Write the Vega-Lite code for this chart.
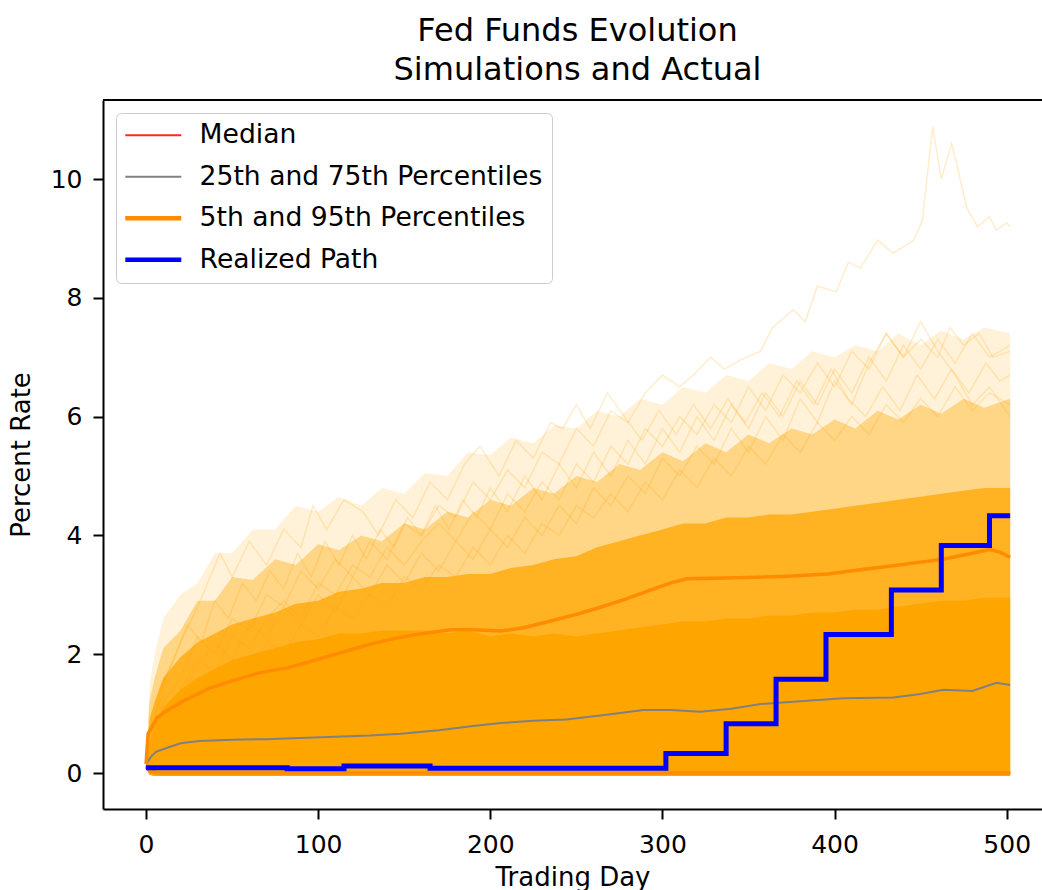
{
  "$schema": "https://vega.github.io/schema/vega-lite/v6.json",
  "width": 939,
  "height": 709,
  "autosize": {"type": "none"},
  "padding": {"left": 103, "top": 100, "right": 0, "bottom": 81},
  "background": "white",
  "title": {
    "text": ["Fed Funds Evolution", "Simulations and Actual"],
    "font": "DejaVu Sans",
    "fontSize": 32,
    "fontWeight": "normal",
    "color": "black",
    "anchor": "middle",
    "lineHeight": 39,
    "offset": 12,
    "dx": 5
  },
  "config": {
    "view": {"stroke": null},
    "font": "DejaVu Sans",
    "axis": {
      "labelFont": "DejaVu Sans",
      "titleFont": "DejaVu Sans",
      "labelColor": "black",
      "titleColor": "black",
      "domainColor": "black",
      "tickColor": "black",
      "domainWidth": 2,
      "tickWidth": 2,
      "tickSize": 10,
      "grid": false,
      "labelFontSize": 25,
      "titleFontSize": 26,
      "titleFontWeight": "normal"
    },
    "legend": {
      "labelFont": "DejaVu Sans",
      "labelFontSize": 26.6,
      "labelColor": "black",
      "labelLimit": 0,
      "symbolType": "M-1.3,0H4.3",
      "symbolSize": 400,
      "symbolStrokeWidth": 2,
      "rowPadding": 14.5,
      "labelOffset": 48,
      "padding": 9,
      "strokeColor": "#cccccc",
      "fillColor": "rgba(255,255,255,0.8)",
      "cornerRadius": 5,
      "orient": "top-left",
      "offset": 13
    }
  },
  "datasets": {
    "cloud": [
      {"day": 0, "lo": 0.08, "s1": 0.1, "s2": 0.1, "s3": 0.1, "s4": 0.1},
      {"day": 2, "lo": -0.03, "s1": 0.5, "s2": 0.9, "s3": 1.2, "s4": 1.5},
      {"day": 5, "lo": -0.05, "s1": 0.8, "s2": 1.2, "s3": 1.6, "s4": 2.0},
      {"day": 10, "lo": -0.05, "s1": 1.1, "s2": 1.6, "s3": 2.1, "s4": 2.6},
      {"day": 20, "lo": -0.05, "s1": 1.4, "s2": 1.95, "s3": 2.4, "s4": 3.0},
      {"day": 30, "lo": -0.05, "s1": 1.6, "s2": 2.2, "s3": 2.9, "s4": 3.2},
      {"day": 40, "lo": -0.05, "s1": 1.75, "s2": 2.35, "s3": 2.9, "s4": 3.7},
      {"day": 50, "lo": -0.05, "s1": 1.9, "s2": 2.5, "s3": 3.3, "s4": 3.7},
      {"day": 62, "lo": -0.05, "s1": 2.0, "s2": 2.6, "s3": 3.25, "s4": 4.1},
      {"day": 75, "lo": -0.05, "s1": 2.1, "s2": 2.7, "s3": 3.6, "s4": 4.1},
      {"day": 87, "lo": -0.05, "s1": 2.2, "s2": 2.85, "s3": 3.5, "s4": 4.5},
      {"day": 100, "lo": -0.05, "s1": 2.25, "s2": 2.9, "s3": 3.85, "s4": 4.4},
      {"day": 112, "lo": -0.05, "s1": 2.35, "s2": 3.05, "s3": 3.75, "s4": 4.65},
      {"day": 125, "lo": -0.05, "s1": 2.35, "s2": 3.1, "s3": 4.0, "s4": 4.5},
      {"day": 137, "lo": -0.05, "s1": 2.4, "s2": 3.2, "s3": 3.9, "s4": 4.8},
      {"day": 150, "lo": -0.05, "s1": 2.4, "s2": 3.2, "s3": 4.2, "s4": 4.7},
      {"day": 162, "lo": -0.05, "s1": 2.4, "s2": 3.3, "s3": 4.1, "s4": 5.05},
      {"day": 175, "lo": -0.05, "s1": 2.35, "s2": 3.3, "s3": 4.4, "s4": 5.0},
      {"day": 187, "lo": -0.05, "s1": 2.4, "s2": 3.35, "s3": 4.3, "s4": 5.4},
      {"day": 200, "lo": -0.05, "s1": 2.3, "s2": 3.35, "s3": 4.6, "s4": 5.35},
      {"day": 212, "lo": -0.05, "s1": 2.35, "s2": 3.45, "s3": 4.5, "s4": 5.65},
      {"day": 225, "lo": -0.05, "s1": 2.3, "s2": 3.5, "s3": 4.8, "s4": 5.55},
      {"day": 237, "lo": -0.05, "s1": 2.35, "s2": 3.6, "s3": 4.7, "s4": 5.85},
      {"day": 250, "lo": -0.05, "s1": 2.3, "s2": 3.65, "s3": 5.0, "s4": 5.8},
      {"day": 262, "lo": -0.05, "s1": 2.35, "s2": 3.8, "s3": 4.9, "s4": 6.1},
      {"day": 275, "lo": -0.05, "s1": 2.4, "s2": 3.9, "s3": 5.2, "s4": 6.0},
      {"day": 287, "lo": -0.05, "s1": 2.45, "s2": 4.0, "s3": 5.1, "s4": 6.3},
      {"day": 300, "lo": -0.05, "s1": 2.5, "s2": 4.1, "s3": 5.4, "s4": 6.2},
      {"day": 312, "lo": -0.05, "s1": 2.55, "s2": 4.2, "s3": 5.25, "s4": 6.5},
      {"day": 325, "lo": -0.05, "s1": 2.55, "s2": 4.2, "s3": 5.55, "s4": 6.4},
      {"day": 337, "lo": -0.05, "s1": 2.6, "s2": 4.3, "s3": 5.4, "s4": 6.7},
      {"day": 350, "lo": -0.05, "s1": 2.6, "s2": 4.3, "s3": 5.7, "s4": 6.6},
      {"day": 362, "lo": -0.05, "s1": 2.65, "s2": 4.35, "s3": 5.55, "s4": 6.9},
      {"day": 375, "lo": -0.05, "s1": 2.65, "s2": 4.35, "s3": 5.8, "s4": 6.8},
      {"day": 387, "lo": -0.05, "s1": 2.7, "s2": 4.4, "s3": 5.7, "s4": 7.1},
      {"day": 400, "lo": -0.05, "s1": 2.7, "s2": 4.45, "s3": 5.95, "s4": 7.0},
      {"day": 412, "lo": -0.05, "s1": 2.75, "s2": 4.5, "s3": 5.8, "s4": 7.2},
      {"day": 425, "lo": -0.05, "s1": 2.75, "s2": 4.55, "s3": 6.1, "s4": 7.1},
      {"day": 437, "lo": -0.05, "s1": 2.8, "s2": 4.6, "s3": 5.95, "s4": 7.4},
      {"day": 450, "lo": -0.05, "s1": 2.85, "s2": 4.65, "s3": 6.2, "s4": 7.2},
      {"day": 462, "lo": -0.05, "s1": 2.9, "s2": 4.7, "s3": 6.05, "s4": 7.45},
      {"day": 475, "lo": -0.05, "s1": 2.9, "s2": 4.75, "s3": 6.3, "s4": 7.3},
      {"day": 487, "lo": -0.05, "s1": 2.95, "s2": 4.8, "s3": 6.15, "s4": 7.5},
      {"day": 502, "lo": -0.05, "s1": 2.95, "s2": 4.8, "s3": 6.3, "s4": 7.4}
    ],
    "paths": [
      {"path": "a", "day": 0, "value": 0.1}, {"path": "a", "day": 10, "value": 1.2}, {"path": "a", "day": 20, "value": 1.6}, {"path": "a", "day": 30, "value": 2.3}, {"path": "a", "day": 40, "value": 2.0}, {"path": "a", "day": 50, "value": 2.6}, {"path": "a", "day": 60, "value": 2.4}, {"path": "a", "day": 70, "value": 3.0}, {"path": "a", "day": 80, "value": 2.8}, {"path": "a", "day": 90, "value": 3.4}, {"path": "a", "day": 100, "value": 3.1}, {"path": "a", "day": 110, "value": 3.6}, {"path": "a", "day": 120, "value": 3.3}, {"path": "a", "day": 130, "value": 3.9}, {"path": "a", "day": 140, "value": 3.6}, {"path": "a", "day": 150, "value": 4.2}, {"path": "a", "day": 160, "value": 4.0}, {"path": "a", "day": 170, "value": 4.5}, {"path": "a", "day": 180, "value": 4.3}, {"path": "a", "day": 190, "value": 4.9}, {"path": "a", "day": 200, "value": 4.6}, {"path": "a", "day": 210, "value": 5.1}, {"path": "a", "day": 220, "value": 4.8}, {"path": "a", "day": 230, "value": 5.4}, {"path": "a", "day": 240, "value": 5.2}, {"path": "a", "day": 250, "value": 5.8}, {"path": "a", "day": 260, "value": 5.5}, {"path": "a", "day": 270, "value": 6.1}, {"path": "a", "day": 280, "value": 5.9}, {"path": "a", "day": 290, "value": 6.4}, {"path": "a", "day": 300, "value": 6.7}, {"path": "a", "day": 310, "value": 6.5}, {"path": "a", "day": 318, "value": 6.7}, {"path": "a", "day": 328, "value": 7.0}, {"path": "a", "day": 336, "value": 6.8}, {"path": "a", "day": 345, "value": 6.95}, {"path": "a", "day": 357, "value": 7.1}, {"path": "a", "day": 364, "value": 7.5}, {"path": "a", "day": 376, "value": 7.8}, {"path": "a", "day": 383, "value": 7.6}, {"path": "a", "day": 390, "value": 8.2}, {"path": "a", "day": 401, "value": 8.1}, {"path": "a", "day": 408, "value": 8.6}, {"path": "a", "day": 415, "value": 8.5}, {"path": "a", "day": 425, "value": 8.97}, {"path": "a", "day": 434, "value": 8.75}, {"path": "a", "day": 446, "value": 8.97}, {"path": "a", "day": 451, "value": 9.3}, {"path": "a", "day": 457, "value": 10.88}, {"path": "a", "day": 462, "value": 10.0}, {"path": "a", "day": 468, "value": 10.6}, {"path": "a", "day": 477, "value": 9.5}, {"path": "a", "day": 483, "value": 9.2}, {"path": "a", "day": 490, "value": 9.36}, {"path": "a", "day": 494, "value": 9.14}, {"path": "a", "day": 500, "value": 9.26}, {"path": "a", "day": 502, "value": 9.2},
      {"path": "b", "day": 0, "value": 0.1}, {"path": "b", "day": 10, "value": 0.9}, {"path": "b", "day": 20, "value": 1.4}, {"path": "b", "day": 30, "value": 1.9}, {"path": "b", "day": 40, "value": 1.7}, {"path": "b", "day": 50, "value": 2.3}, {"path": "b", "day": 60, "value": 2.1}, {"path": "b", "day": 70, "value": 2.6}, {"path": "b", "day": 80, "value": 2.9}, {"path": "b", "day": 90, "value": 2.6}, {"path": "b", "day": 100, "value": 3.2}, {"path": "b", "day": 110, "value": 3.0}, {"path": "b", "day": 120, "value": 3.5}, {"path": "b", "day": 130, "value": 3.3}, {"path": "b", "day": 140, "value": 3.8}, {"path": "b", "day": 150, "value": 3.5}, {"path": "b", "day": 160, "value": 3.9}, {"path": "b", "day": 170, "value": 4.2}, {"path": "b", "day": 180, "value": 3.9}, {"path": "b", "day": 190, "value": 4.4}, {"path": "b", "day": 200, "value": 4.1}, {"path": "b", "day": 210, "value": 4.7}, {"path": "b", "day": 220, "value": 4.4}, {"path": "b", "day": 230, "value": 4.9}, {"path": "b", "day": 240, "value": 4.6}, {"path": "b", "day": 250, "value": 5.2}, {"path": "b", "day": 260, "value": 4.9}, {"path": "b", "day": 270, "value": 5.5}, {"path": "b", "day": 280, "value": 5.2}, {"path": "b", "day": 290, "value": 5.8}, {"path": "b", "day": 300, "value": 5.5}, {"path": "b", "day": 310, "value": 6.0}, {"path": "b", "day": 320, "value": 5.7}, {"path": "b", "day": 330, "value": 6.2}, {"path": "b", "day": 340, "value": 5.9}, {"path": "b", "day": 350, "value": 6.5}, {"path": "b", "day": 360, "value": 6.1}, {"path": "b", "day": 370, "value": 6.7}, {"path": "b", "day": 380, "value": 6.4}, {"path": "b", "day": 390, "value": 6.9}, {"path": "b", "day": 400, "value": 6.5}, {"path": "b", "day": 410, "value": 7.1}, {"path": "b", "day": 420, "value": 6.8}, {"path": "b", "day": 430, "value": 7.4}, {"path": "b", "day": 440, "value": 7.0}, {"path": "b", "day": 450, "value": 7.3}, {"path": "b", "day": 460, "value": 7.0}, {"path": "b", "day": 467, "value": 7.5}, {"path": "b", "day": 475, "value": 7.2}, {"path": "b", "day": 484, "value": 7.4}, {"path": "b", "day": 492, "value": 7.0}, {"path": "b", "day": 502, "value": 7.1},
      {"path": "c", "day": 0, "value": 0.1}, {"path": "c", "day": 10, "value": 1.5}, {"path": "c", "day": 20, "value": 2.2}, {"path": "c", "day": 30, "value": 2.8}, {"path": "c", "day": 43, "value": 3.7}, {"path": "c", "day": 50, "value": 3.3}, {"path": "c", "day": 60, "value": 3.9}, {"path": "c", "day": 70, "value": 3.5}, {"path": "c", "day": 80, "value": 4.1}, {"path": "c", "day": 90, "value": 3.8}, {"path": "c", "day": 97, "value": 4.5}, {"path": "c", "day": 105, "value": 4.1}, {"path": "c", "day": 115, "value": 4.6}, {"path": "c", "day": 126, "value": 4.4}, {"path": "c", "day": 135, "value": 4.0}, {"path": "c", "day": 145, "value": 4.6}, {"path": "c", "day": 155, "value": 4.3}, {"path": "c", "day": 165, "value": 4.9}, {"path": "c", "day": 175, "value": 4.6}, {"path": "c", "day": 185, "value": 5.2}, {"path": "c", "day": 194, "value": 5.5}, {"path": "c", "day": 205, "value": 5.0}, {"path": "c", "day": 215, "value": 5.6}, {"path": "c", "day": 225, "value": 5.3}, {"path": "c", "day": 235, "value": 5.9}, {"path": "c", "day": 242, "value": 5.8}, {"path": "c", "day": 250, "value": 6.2}, {"path": "c", "day": 258, "value": 5.8}, {"path": "c", "day": 268, "value": 6.4}, {"path": "c", "day": 278, "value": 6.0}, {"path": "c", "day": 288, "value": 5.6}, {"path": "c", "day": 298, "value": 6.1}, {"path": "c", "day": 308, "value": 5.7}, {"path": "c", "day": 318, "value": 6.2}, {"path": "c", "day": 328, "value": 5.8}, {"path": "c", "day": 338, "value": 6.3}, {"path": "c", "day": 348, "value": 5.9}, {"path": "c", "day": 358, "value": 6.4}, {"path": "c", "day": 368, "value": 6.0}, {"path": "c", "day": 378, "value": 6.6}, {"path": "c", "day": 388, "value": 6.2}, {"path": "c", "day": 398, "value": 6.8}, {"path": "c", "day": 408, "value": 6.3}, {"path": "c", "day": 418, "value": 6.0}, {"path": "c", "day": 428, "value": 6.5}, {"path": "c", "day": 438, "value": 6.1}, {"path": "c", "day": 448, "value": 6.7}, {"path": "c", "day": 458, "value": 6.3}, {"path": "c", "day": 468, "value": 6.8}, {"path": "c", "day": 478, "value": 6.4}, {"path": "c", "day": 488, "value": 6.9}, {"path": "c", "day": 496, "value": 6.6}, {"path": "c", "day": 502, "value": 6.7},
      {"path": "d", "day": 0, "value": 0.1}, {"path": "d", "day": 10, "value": 1.0}, {"path": "d", "day": 20, "value": 1.3}, {"path": "d", "day": 30, "value": 1.8}, {"path": "d", "day": 40, "value": 2.2}, {"path": "d", "day": 50, "value": 1.9}, {"path": "d", "day": 60, "value": 2.5}, {"path": "d", "day": 70, "value": 2.3}, {"path": "d", "day": 80, "value": 2.8}, {"path": "d", "day": 90, "value": 2.5}, {"path": "d", "day": 100, "value": 3.0}, {"path": "d", "day": 110, "value": 2.7}, {"path": "d", "day": 120, "value": 3.3}, {"path": "d", "day": 130, "value": 3.0}, {"path": "d", "day": 140, "value": 3.5}, {"path": "d", "day": 150, "value": 3.2}, {"path": "d", "day": 160, "value": 3.7}, {"path": "d", "day": 170, "value": 3.4}, {"path": "d", "day": 180, "value": 3.9}, {"path": "d", "day": 190, "value": 3.6}, {"path": "d", "day": 200, "value": 4.1}, {"path": "d", "day": 210, "value": 3.8}, {"path": "d", "day": 220, "value": 4.3}, {"path": "d", "day": 230, "value": 4.0}, {"path": "d", "day": 240, "value": 4.5}, {"path": "d", "day": 250, "value": 4.2}, {"path": "d", "day": 260, "value": 4.8}, {"path": "d", "day": 270, "value": 4.5}, {"path": "d", "day": 280, "value": 5.0}, {"path": "d", "day": 290, "value": 4.7}, {"path": "d", "day": 300, "value": 5.3}, {"path": "d", "day": 310, "value": 5.0}, {"path": "d", "day": 320, "value": 5.5}, {"path": "d", "day": 330, "value": 5.2}, {"path": "d", "day": 340, "value": 5.8}, {"path": "d", "day": 350, "value": 5.4}, {"path": "d", "day": 360, "value": 6.0}, {"path": "d", "day": 370, "value": 5.6}, {"path": "d", "day": 380, "value": 6.3}, {"path": "d", "day": 390, "value": 5.9}, {"path": "d", "day": 400, "value": 6.6}, {"path": "d", "day": 410, "value": 6.2}, {"path": "d", "day": 420, "value": 6.9}, {"path": "d", "day": 430, "value": 7.4}, {"path": "d", "day": 440, "value": 7.0}, {"path": "d", "day": 450, "value": 7.6}, {"path": "d", "day": 460, "value": 7.1}, {"path": "d", "day": 470, "value": 6.7}, {"path": "d", "day": 480, "value": 6.2}, {"path": "d", "day": 490, "value": 6.5}, {"path": "d", "day": 502, "value": 6.0},
      {"path": "e", "day": 0, "value": 0.1}, {"path": "e", "day": 10, "value": 0.8}, {"path": "e", "day": 20, "value": 1.2}, {"path": "e", "day": 30, "value": 1.6}, {"path": "e", "day": 40, "value": 1.4}, {"path": "e", "day": 50, "value": 1.9}, {"path": "e", "day": 60, "value": 1.7}, {"path": "e", "day": 70, "value": 2.2}, {"path": "e", "day": 80, "value": 2.0}, {"path": "e", "day": 90, "value": 2.5}, {"path": "e", "day": 100, "value": 2.3}, {"path": "e", "day": 110, "value": 2.8}, {"path": "e", "day": 120, "value": 2.6}, {"path": "e", "day": 130, "value": 3.0}, {"path": "e", "day": 140, "value": 2.8}, {"path": "e", "day": 150, "value": 3.3}, {"path": "e", "day": 160, "value": 3.1}, {"path": "e", "day": 170, "value": 3.5}, {"path": "e", "day": 180, "value": 3.3}, {"path": "e", "day": 190, "value": 3.8}, {"path": "e", "day": 200, "value": 3.5}, {"path": "e", "day": 210, "value": 4.0}, {"path": "e", "day": 220, "value": 3.7}, {"path": "e", "day": 230, "value": 4.2}, {"path": "e", "day": 240, "value": 4.0}, {"path": "e", "day": 250, "value": 4.5}, {"path": "e", "day": 260, "value": 4.3}, {"path": "e", "day": 270, "value": 4.7}, {"path": "e", "day": 280, "value": 4.4}, {"path": "e", "day": 290, "value": 4.9}, {"path": "e", "day": 300, "value": 4.6}, {"path": "e", "day": 310, "value": 5.1}, {"path": "e", "day": 320, "value": 4.8}, {"path": "e", "day": 330, "value": 5.3}, {"path": "e", "day": 340, "value": 5.0}, {"path": "e", "day": 350, "value": 5.5}, {"path": "e", "day": 360, "value": 5.2}, {"path": "e", "day": 370, "value": 5.7}, {"path": "e", "day": 380, "value": 5.4}, {"path": "e", "day": 390, "value": 5.9}, {"path": "e", "day": 400, "value": 5.6}, {"path": "e", "day": 410, "value": 6.0}, {"path": "e", "day": 420, "value": 5.7}, {"path": "e", "day": 430, "value": 6.2}, {"path": "e", "day": 440, "value": 5.9}, {"path": "e", "day": 450, "value": 6.3}, {"path": "e", "day": 460, "value": 6.0}, {"path": "e", "day": 470, "value": 6.5}, {"path": "e", "day": 480, "value": 6.1}, {"path": "e", "day": 490, "value": 6.4}, {"path": "e", "day": 502, "value": 6.2},
      {"path": "f", "day": 0, "value": 0.1}, {"path": "f", "day": 8, "value": 1.4}, {"path": "f", "day": 16, "value": 1.9}, {"path": "f", "day": 24, "value": 2.5}, {"path": "f", "day": 32, "value": 2.2}, {"path": "f", "day": 40, "value": 2.9}, {"path": "f", "day": 48, "value": 2.6}, {"path": "f", "day": 56, "value": 3.2}, {"path": "f", "day": 64, "value": 2.9}, {"path": "f", "day": 72, "value": 3.4}, {"path": "f", "day": 80, "value": 3.1}, {"path": "f", "day": 88, "value": 3.7}, {"path": "f", "day": 96, "value": 3.3}, {"path": "f", "day": 104, "value": 3.9}, {"path": "f", "day": 112, "value": 3.5}, {"path": "f", "day": 120, "value": 4.0}, {"path": "f", "day": 128, "value": 3.6}, {"path": "f", "day": 136, "value": 4.1}, {"path": "f", "day": 144, "value": 3.8}, {"path": "f", "day": 152, "value": 4.3}, {"path": "f", "day": 160, "value": 4.0}, {"path": "f", "day": 168, "value": 4.5}, {"path": "f", "day": 176, "value": 4.1}, {"path": "f", "day": 184, "value": 4.6}, {"path": "f", "day": 192, "value": 4.3}, {"path": "f", "day": 200, "value": 4.8}, {"path": "f", "day": 210, "value": 4.4}, {"path": "f", "day": 220, "value": 5.0}, {"path": "f", "day": 230, "value": 4.6}, {"path": "f", "day": 240, "value": 5.2}, {"path": "f", "day": 250, "value": 4.8}, {"path": "f", "day": 260, "value": 5.4}, {"path": "f", "day": 270, "value": 5.0}, {"path": "f", "day": 280, "value": 5.6}, {"path": "f", "day": 290, "value": 5.2}, {"path": "f", "day": 300, "value": 5.8}, {"path": "f", "day": 310, "value": 5.4}, {"path": "f", "day": 320, "value": 6.0}, {"path": "f", "day": 330, "value": 5.6}, {"path": "f", "day": 340, "value": 6.2}, {"path": "f", "day": 350, "value": 5.8}, {"path": "f", "day": 360, "value": 6.4}, {"path": "f", "day": 370, "value": 6.0}, {"path": "f", "day": 380, "value": 6.6}, {"path": "f", "day": 390, "value": 6.2}, {"path": "f", "day": 400, "value": 6.8}, {"path": "f", "day": 410, "value": 6.4}, {"path": "f", "day": 420, "value": 7.0}, {"path": "f", "day": 430, "value": 6.6}, {"path": "f", "day": 440, "value": 7.2}, {"path": "f", "day": 450, "value": 6.8}, {"path": "f", "day": 460, "value": 7.3}, {"path": "f", "day": 470, "value": 6.9}, {"path": "f", "day": 480, "value": 7.4}, {"path": "f", "day": 490, "value": 7.0}, {"path": "f", "day": 502, "value": 7.2}
    ],
    "pct": [
      {"series": "Median", "line": "med", "day": 0, "value": 0.1}, {"series": "Median", "line": "med", "day": 3, "value": 0.04}, {"series": "Median", "line": "med", "day": 8, "value": 0.0}, {"series": "Median", "line": "med", "day": 502, "value": 0.0},
      {"series": "25th and 75th Percentiles", "line": "p25", "day": 0, "value": 0.1}, {"series": "25th and 75th Percentiles", "line": "p25", "day": 3, "value": 0.03}, {"series": "25th and 75th Percentiles", "line": "p25", "day": 8, "value": 0.0}, {"series": "25th and 75th Percentiles", "line": "p25", "day": 502, "value": 0.0},
      {"series": "25th and 75th Percentiles", "line": "p75", "day": 0, "value": 0.15}, {"series": "25th and 75th Percentiles", "line": "p75", "day": 3, "value": 0.28}, {"series": "25th and 75th Percentiles", "line": "p75", "day": 6, "value": 0.36}, {"series": "25th and 75th Percentiles", "line": "p75", "day": 12, "value": 0.42}, {"series": "25th and 75th Percentiles", "line": "p75", "day": 20, "value": 0.5}, {"series": "25th and 75th Percentiles", "line": "p75", "day": 31, "value": 0.54}, {"series": "25th and 75th Percentiles", "line": "p75", "day": 50, "value": 0.56}, {"series": "25th and 75th Percentiles", "line": "p75", "day": 70, "value": 0.57}, {"series": "25th and 75th Percentiles", "line": "p75", "day": 89, "value": 0.59}, {"series": "25th and 75th Percentiles", "line": "p75", "day": 110, "value": 0.61}, {"series": "25th and 75th Percentiles", "line": "p75", "day": 130, "value": 0.63}, {"series": "25th and 75th Percentiles", "line": "p75", "day": 148, "value": 0.66}, {"series": "25th and 75th Percentiles", "line": "p75", "day": 170, "value": 0.72}, {"series": "25th and 75th Percentiles", "line": "p75", "day": 190, "value": 0.79}, {"series": "25th and 75th Percentiles", "line": "p75", "day": 206, "value": 0.84}, {"series": "25th and 75th Percentiles", "line": "p75", "day": 225, "value": 0.88}, {"series": "25th and 75th Percentiles", "line": "p75", "day": 244, "value": 0.9}, {"series": "25th and 75th Percentiles", "line": "p75", "day": 264, "value": 0.97}, {"series": "25th and 75th Percentiles", "line": "p75", "day": 289, "value": 1.06}, {"series": "25th and 75th Percentiles", "line": "p75", "day": 305, "value": 1.06}, {"series": "25th and 75th Percentiles", "line": "p75", "day": 322, "value": 1.03}, {"series": "25th and 75th Percentiles", "line": "p75", "day": 340, "value": 1.08}, {"series": "25th and 75th Percentiles", "line": "p75", "day": 357, "value": 1.16}, {"series": "25th and 75th Percentiles", "line": "p75", "day": 380, "value": 1.21}, {"series": "25th and 75th Percentiles", "line": "p75", "day": 405, "value": 1.26}, {"series": "25th and 75th Percentiles", "line": "p75", "day": 434, "value": 1.27}, {"series": "25th and 75th Percentiles", "line": "p75", "day": 450, "value": 1.33}, {"series": "25th and 75th Percentiles", "line": "p75", "day": 463, "value": 1.4}, {"series": "25th and 75th Percentiles", "line": "p75", "day": 480, "value": 1.38}, {"series": "25th and 75th Percentiles", "line": "p75", "day": 494, "value": 1.52}, {"series": "25th and 75th Percentiles", "line": "p75", "day": 502, "value": 1.48},
      {"series": "5th and 95th Percentiles", "line": "p5", "day": 0, "value": 0.1}, {"series": "5th and 95th Percentiles", "line": "p5", "day": 3, "value": 0.02}, {"series": "5th and 95th Percentiles", "line": "p5", "day": 8, "value": 0.0}, {"series": "5th and 95th Percentiles", "line": "p5", "day": 502, "value": 0.0},
      {"series": "5th and 95th Percentiles", "line": "p95", "day": 0, "value": 0.15}, {"series": "5th and 95th Percentiles", "line": "p95", "day": 1.2, "value": 0.66}, {"series": "5th and 95th Percentiles", "line": "p95", "day": 6.4, "value": 0.93}, {"series": "5th and 95th Percentiles", "line": "p95", "day": 12, "value": 1.05}, {"series": "5th and 95th Percentiles", "line": "p95", "day": 21.5, "value": 1.21}, {"series": "5th and 95th Percentiles", "line": "p95", "day": 37, "value": 1.43}, {"series": "5th and 95th Percentiles", "line": "p95", "day": 50, "value": 1.55}, {"series": "5th and 95th Percentiles", "line": "p95", "day": 66, "value": 1.69}, {"series": "5th and 95th Percentiles", "line": "p95", "day": 82, "value": 1.77}, {"series": "5th and 95th Percentiles", "line": "p95", "day": 97, "value": 1.89}, {"series": "5th and 95th Percentiles", "line": "p95", "day": 110, "value": 2.0}, {"series": "5th and 95th Percentiles", "line": "p95", "day": 128, "value": 2.15}, {"series": "5th and 95th Percentiles", "line": "p95", "day": 145, "value": 2.27}, {"series": "5th and 95th Percentiles", "line": "p95", "day": 159, "value": 2.34}, {"series": "5th and 95th Percentiles", "line": "p95", "day": 177, "value": 2.41}, {"series": "5th and 95th Percentiles", "line": "p95", "day": 190, "value": 2.41}, {"series": "5th and 95th Percentiles", "line": "p95", "day": 206, "value": 2.39}, {"series": "5th and 95th Percentiles", "line": "p95", "day": 220, "value": 2.45}, {"series": "5th and 95th Percentiles", "line": "p95", "day": 235, "value": 2.56}, {"series": "5th and 95th Percentiles", "line": "p95", "day": 250, "value": 2.67}, {"series": "5th and 95th Percentiles", "line": "p95", "day": 264, "value": 2.79}, {"series": "5th and 95th Percentiles", "line": "p95", "day": 279, "value": 2.93}, {"series": "5th and 95th Percentiles", "line": "p95", "day": 295, "value": 3.1}, {"series": "5th and 95th Percentiles", "line": "p95", "day": 305, "value": 3.2}, {"series": "5th and 95th Percentiles", "line": "p95", "day": 314, "value": 3.27}, {"series": "5th and 95th Percentiles", "line": "p95", "day": 330, "value": 3.28}, {"series": "5th and 95th Percentiles", "line": "p95", "day": 349, "value": 3.29}, {"series": "5th and 95th Percentiles", "line": "p95", "day": 370, "value": 3.31}, {"series": "5th and 95th Percentiles", "line": "p95", "day": 396, "value": 3.35}, {"series": "5th and 95th Percentiles", "line": "p95", "day": 415, "value": 3.42}, {"series": "5th and 95th Percentiles", "line": "p95", "day": 434, "value": 3.49}, {"series": "5th and 95th Percentiles", "line": "p95", "day": 450, "value": 3.55}, {"series": "5th and 95th Percentiles", "line": "p95", "day": 463, "value": 3.6}, {"series": "5th and 95th Percentiles", "line": "p95", "day": 480, "value": 3.7}, {"series": "5th and 95th Percentiles", "line": "p95", "day": 490, "value": 3.76}, {"series": "5th and 95th Percentiles", "line": "p95", "day": 496, "value": 3.72}, {"series": "5th and 95th Percentiles", "line": "p95", "day": 502, "value": 3.63}
    ],
    "realized": [
      {"series": "Realized Path", "day": 0, "value": 0.09},
      {"series": "Realized Path", "day": 82, "value": 0.07},
      {"series": "Realized Path", "day": 115, "value": 0.12},
      {"series": "Realized Path", "day": 165, "value": 0.08},
      {"series": "Realized Path", "day": 302, "value": 0.33},
      {"series": "Realized Path", "day": 337, "value": 0.83},
      {"series": "Realized Path", "day": 366, "value": 1.58},
      {"series": "Realized Path", "day": 395, "value": 2.33},
      {"series": "Realized Path", "day": 433, "value": 3.08},
      {"series": "Realized Path", "day": 462, "value": 3.83},
      {"series": "Realized Path", "day": 490, "value": 4.33},
      {"series": "Realized Path", "day": 502, "value": 4.33}
    ]
  },
  "layer": [
    {
      "data": {"name": "cloud"},
      "mark": {"type": "area", "color": "#FFA500", "opacity": 0.15},
      "encoding": {
        "x": {"field": "day", "type": "quantitative", "scale": {"domain": [-25, 520.5], "nice": false, "zero": false}, "axis": {"values": [0, 100, 200, 300, 400, 500], "title": "Trading Day", "labelPadding": 13, "titlePadding": 7, "labelFlush": false}},
        "y": {"field": "s4", "type": "quantitative", "scale": {"domain": [-0.606, 11.33], "nice": false, "zero": false}, "axis": {"values": [0, 2, 4, 6, 8, 10], "format": "d", "title": "Percent Rate", "labelPadding": 11, "titlePadding": 16}},
        "y2": {"field": "lo"}
      }
    },
    {
      "data": {"name": "cloud"},
      "mark": {"type": "area", "color": "#FFA500", "opacity": 0.38},
      "encoding": {
        "x": {"field": "day", "type": "quantitative"},
        "y": {"field": "s3", "type": "quantitative", "title": "Percent Rate"},
        "y2": {"field": "lo"}
      }
    },
    {
      "data": {"name": "cloud"},
      "mark": {"type": "area", "color": "#FFA500", "opacity": 0.75},
      "encoding": {
        "x": {"field": "day", "type": "quantitative"},
        "y": {"field": "s2", "type": "quantitative", "title": "Percent Rate"},
        "y2": {"field": "lo"}
      }
    },
    {
      "data": {"name": "cloud"},
      "mark": {"type": "area", "color": "#FFA500", "opacity": 1},
      "encoding": {
        "x": {"field": "day", "type": "quantitative"},
        "y": {"field": "s1", "type": "quantitative", "title": "Percent Rate"},
        "y2": {"field": "lo"}
      }
    },
    {
      "data": {"name": "paths"},
      "mark": {"type": "line", "color": "#FFA500", "opacity": 0.2, "strokeWidth": 1.5},
      "encoding": {
        "x": {"field": "day", "type": "quantitative"},
        "y": {"field": "value", "type": "quantitative", "title": "Percent Rate"},
        "detail": {"field": "path"}
      }
    },
    {
      "data": {"name": "pct"},
      "transform": [{"filter": "datum.series === 'Median'"}],
      "mark": {"type": "line", "strokeWidth": 2},
      "encoding": {
        "x": {"field": "day", "type": "quantitative"},
        "y": {"field": "value", "type": "quantitative", "title": "Percent Rate"},
        "detail": {"field": "line"},
        "color": {
          "field": "series",
          "type": "nominal",
          "scale": {"domain": ["Median", "25th and 75th Percentiles", "5th and 95th Percentiles", "Realized Path"], "range": ["#ff2a1a", "#808080", "#ff8c00", "#0000ff"]},
          "legend": {
            "title": null,
            "encode": {"symbols": {"update": {"strokeWidth": {"signal": "datum.value === '5th and 95th Percentiles' || datum.value === 'Realized Path' ? 4.5 : 2"}}}}
          }
        }
      }
    },
    {
      "data": {"name": "pct"},
      "transform": [{"filter": "datum.series === '25th and 75th Percentiles'"}],
      "mark": {"type": "line", "strokeWidth": 2},
      "encoding": {
        "x": {"field": "day", "type": "quantitative"},
        "y": {"field": "value", "type": "quantitative", "title": "Percent Rate"},
        "detail": {"field": "line"},
        "color": {"field": "series", "type": "nominal"}
      }
    },
    {
      "data": {"name": "pct"},
      "transform": [{"filter": "datum.series === '5th and 95th Percentiles'"}],
      "mark": {"type": "line", "strokeWidth": 3.5},
      "encoding": {
        "x": {"field": "day", "type": "quantitative"},
        "y": {"field": "value", "type": "quantitative", "title": "Percent Rate"},
        "detail": {"field": "line"},
        "color": {"field": "series", "type": "nominal"}
      }
    },
    {
      "data": {"name": "realized"},
      "mark": {"type": "line", "interpolate": "step-after", "strokeWidth": 5},
      "encoding": {
        "x": {"field": "day", "type": "quantitative"},
        "y": {"field": "value", "type": "quantitative", "title": "Percent Rate"},
        "color": {"field": "series", "type": "nominal"}
      }
    },
    {
      "data": {"values": [{"top": 11.33}]},
      "mark": {"type": "rule", "color": "black", "strokeWidth": 2},
      "encoding": {"y": {"field": "top", "type": "quantitative", "title": "Percent Rate"}}
    }
  ]
}
